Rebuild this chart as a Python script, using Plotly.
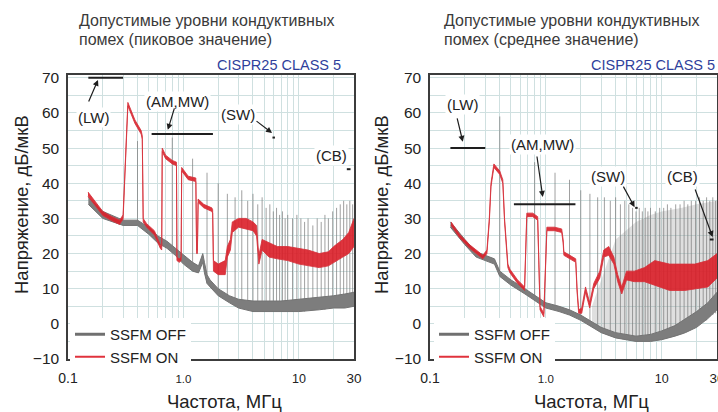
import math
import plotly.graph_objects as go

# ---------------- data ----------------
# Left panel: peak values (frequency in MHz, level in dB/uV)
L_red_f = [0.149, 0.17, 0.2, 0.24, 0.28, 0.30, 0.305, 0.315, 0.33, 0.38, 0.43, 0.44, 0.448, 0.48, 0.56,
           0.63, 0.648, 0.655, 0.70, 0.80, 0.87, 0.878, 0.92, 0.955, 0.965, 1.1, 1.28, 1.30, 1.32, 1.34,
           1.5, 1.76, 1.79, 1.82, 2.0, 2.3, 2.4, 2.55, 2.65, 3.0, 3.5, 4.0, 4.3, 4.4, 4.5, 4.8, 5.5, 6.5,
           8, 10, 12, 15, 18, 20, 24, 27, 30]
L_red_hi = [37.5, 35, 32, 30.5, 29.5, 31, 36, 50, 63, 58, 55, 53.5, 30, 28.5, 26.5,
            22.5, 22, 50, 48, 46.5, 46, 19, 18.5, 19, 44.5, 42, 41.5, 21, 21, 35.5,
            34, 33, 32.5, 18, 17, 18, 22, 24, 29, 30, 30, 29, 28, 23, 19.5, 24, 23, 22,
            22, 21.5, 21, 20, 20.5, 22, 24, 26, 30]
L_red_lo = [36.3, 33.8, 30.8, 29.3, 28.3, 29.8, 35, 49, 62, 57, 54, 52.5, 29, 27.5, 25.3,
            21.5, 21, 49, 47, 45.5, 45, 18, 17.5, 18, 43.5, 41, 40.5, 20, 20, 34.5,
            33, 32, 31.5, 15, 14, 14, 19, 21, 26, 27.5, 27, 26.5, 25, 20, 17, 21, 19, 18.5,
            18, 17, 16.5, 16, 16.5, 17.5, 19, 20, 22]

L_gray_f = [0.15, 0.2, 0.3, 0.4, 0.5, 0.6, 0.72, 0.85, 1.0, 1.2, 1.35, 1.42, 1.47, 1.52, 1.6, 1.7,
            2.0, 2.5, 3, 4, 5, 7, 10, 15, 20, 25, 30]
L_gray_hi = [36, 32, 29.5, 29.5, 27.5, 25, 23.5, 21.5, 19.5, 17.5, 16.5, 18.5, 20, 17.5, 14, 12.5,
             10, 8, 7, 6.5, 6.5, 6.5, 7, 7.5, 8, 8.5, 9]
L_gray_lo = [34, 30, 28, 28, 25.5, 23, 21.5, 19.5, 17, 15, 14.5, 16, 17.5, 14.5, 11.5, 10.5,
             8, 6, 4.5, 3.5, 3.5, 3.5, 3.5, 4, 4.5, 4.5, 5]

L_spike_f = [0.4, 0.8, 1.2, 1.6, 2.0, 2.4, 2.8, 3.2, 3.6, 4.0, 4.4, 4.8, 5.2, 5.6, 6.0, 6.4, 6.8, 7.2,
             7.6, 8.0, 8.8, 9.6, 10.4, 11.2, 12.0, 13.2, 14.4, 15.6, 16.8, 18.0, 19.6, 21.2, 22.8,
             24.4, 26.0, 27.6, 29.2]
L_spike_base = [28, 20, 15, 11.5, 8, 6.5, 5, 4.5, 4, 3.5, 3.5, 3.5, 3.5, 3.5, 3.5, 3.5, 3.5, 3.5,
                3.5, 3.5, 3.5, 3.5, 3.5, 3.5, 4, 4, 4, 4, 4, 4.5, 4.5, 4.5, 5, 5, 5, 5, 5]
L_spike_top = [52, 53, 47, 43, 40, 37, 36, 38, 35, 37, 34, 36, 33, 34, 32, 33, 31, 32,
               30, 31, 30, 31, 30, 29, 30, 28, 30, 29, 31, 30, 32, 33, 34, 35, 34, 35, 34]

# Right panel: average values
R_red_f = [0.152, 0.18, 0.22, 0.26, 0.286, 0.31, 0.325, 0.336, 0.356, 0.40, 0.425, 0.44, 0.47, 0.49,
           0.57, 0.655, 0.67, 0.685, 0.77, 0.85, 0.87, 0.89, 0.96, 0.99, 1.02, 1.19, 1.37, 1.41, 1.43,
           1.61, 1.81, 1.86, 1.92, 2.04, 2.2, 2.39, 2.59, 2.92, 3.16, 3.49, 3.86, 4.17, 4.52, 4.97,
           5.8, 7.1, 8.7, 11.7, 15.8, 19.3, 25, 30]
R_red_hi = [29, 25.5, 22.5, 20.5, 19.5, 21, 30, 40, 45.5, 43.5, 41, 30, 17, 15.5,
            12.5, 10.5, 20, 31.5, 31.5, 30.5, 18, 5, 3, 15, 27.5, 27.5, 27, 24, 20.5,
            19.5, 18.5, 10, 4, 4.5, 10.5, 6, 11.5, 15, 21, 22, 19, 14, 10.5, 15,
            15, 16, 18, 17, 17, 17, 18, 20]
R_red_lo = [28, 24.5, 21.5, 19.5, 18.5, 20, 29, 39, 44.5, 42.5, 40, 29, 16, 14.5,
            11.5, 9.5, 19, 30.5, 30.5, 29.5, 17, 4, 2, 14, 26.5, 26.5, 26, 23, 19.5,
            18.5, 17.5, 9, 3, 3, 9, 4.5, 10, 13, 19, 19.5, 17, 12, 8.5, 12.5,
            12, 12, 11, 9.5, 9.5, 10, 10.5, 13]

R_gray_f = [0.15, 0.2, 0.25, 0.3, 0.36, 0.4, 0.5, 0.66, 0.85, 1.0, 1.3, 1.6, 2.0, 2.5, 3, 4, 5, 6,
            8, 10, 13, 16, 20, 25, 30]
R_gray_hi = [29, 24, 20.5, 19.5, 18.5, 15, 12.5, 10, 7.5, 6, 5, 4, 2.5, 0.5, -1, -2.5, -3, -3.5,
             -3, -2, -0.5, 1.5, 3.5, 6, 9]
R_gray_lo = [27.5, 22.5, 19, 18, 17, 13.5, 11, 8.5, 6, 4.5, 3.5, 2.5, 1, -1, -2.5, -4, -4.5, -5,
             -5, -4.5, -3.5, -2.5, -1, 1.5, 4]

R_spike_f = [0.4, 0.8, 1.2, 1.6, 2.0, 2.4, 2.8, 3.2, 3.6, 4.0, 4.4, 4.8, 5.2, 5.6, 6.0, 6.4, 6.8, 7.2,
             7.6, 8.0, 8.8, 9.6, 10.4, 11.2, 12.0, 13.2, 14.4, 15.6, 16.8, 18.0, 19.6, 21.2, 22.8,
             24.4, 26.0, 27.6, 29.2]
R_spike_base = [14, 7, 4, 2.5, 1, 0, -1, -2, -2.5, -3, -3.5, -3.5, -4, -4, -4.5, -4.5, -4.5, -4.5,
                -4.5, -4.5, -4.5, -4, -4, -4, -3.5, -3, -3, -2.5, -2, -1.5, -1, 0, 0.5, 1, 2, 2.5, 3]
R_spike_top = [59, 46, 43, 41, 38, 37, 36, 36, 35, 36, 34, 35, 34, 33, 32, 33, 32, 33,
               32, 33, 32, 33, 33, 34, 33, 34, 34, 35, 34, 35, 35, 36, 35, 36, 35, 36, 35]

R_dense_f = [2.5, 4, 6, 8, 10, 15, 20, 30]
R_dense_lo = [-1, -4, -5, -5, -4.5, -3, -1, 4]
R_dense_hi = [5, 24, 29, 31, 32, 33, 34, 35]

# CISPR 25 class 5 limits
limit_f_start = [0.15, 0.53, 5.9, 26]
limit_f_end = [0.3, 1.8, 6.2, 28]
peak_limit = [70, 54, 53, 44]
avg_limit = [50, 34, 33, 24]

# annotation labels
ann_text = ["(LW)", "(AM,MW)", "(SW)", "(CB)"]
L_ann_f = [0.165, 0.88, 2.97, 19.3]
L_ann_v = [58.6, 63.4, 59.5, 47.8]
L_arr_f = [0.182, 0.732, 5.85]
L_arr_v = [69.4, 55.2, 54.3]
L_arr_ax = [-10, 7, -17]
L_arr_ay = [23, -23, -13]
R_ann_f = [0.189, 0.94, 3.42, 15.1]
R_ann_v = [62.3, 50.9, 41.8, 41.8]
R_arr_f = [0.192, 0.94, 5.83, 27.5]
R_arr_v = [51.8, 36.1, 33.2, 24.7]
R_arr_ax = [-6, -6, -12, -18]
R_arr_ay = [-25, -42, -22, -49]

x_tickvals = [0.1, 1, 10, 30]
x_ticktext = ['<span style="font-size:14px">0.1</span>', '<span style="font-size:11.5px">1.0</span>',
              '<span style="font-size:12.5px">10</span>', '<span style="font-size:13.5px">30</span>']
x_minor = [0.2, 0.3, 0.4, 0.5, 0.6, 0.7, 0.8, 0.9, 2, 3, 4, 5, 6, 7, 8, 9, 20]
y_tickvals = [-10, 0, 10, 20, 30, 40, 50, 60, 70]
y_ticktext = ["\u221210", "0", "10", "20", "30", "40", "50", "60", "70"]
y_minor = [-5, 5, 15, 25, 35, 45, 55, 65]

titles = ["Допустимые уровни кондуктивных", "помех (пиковое значение)",
          "Допустимые уровни кондуктивных", "помех (среднее значение)"]

# ---------------- styles ----------------
FONT = "Liberation Sans, Arial, Helvetica, sans-serif"
RED_LINE = "rgba(214,50,60,0.85)"
RED_FILL = "rgba(218,30,40,0.9)"
GRAY_LINE = "#737373"
GRAY_FILL = "#7d7d7d"
SPIKE = "rgba(120,120,120,0.7)"
GRID = "#cfe0e0"
FRAME = "#3c3c3c"

fig = go.Figure()


def spikes(fs, base, top):
    xs, ys = [], []
    for f, b, t in zip(fs, base, top):
        xs += [f, f, None]
        ys += [b, t, None]
    return xs, ys


def limits(vals):
    xs, ys = [], []
    for a, b, v in zip(limit_f_start, limit_f_end, vals):
        xs += [a, b, None]
        ys += [v, v, None]
    return xs, ys


def panel(xa, ya, sp_f, sp_b, sp_t, g_f, g_hi, g_lo, r_f, r_hi, r_lo, lim, legend, dense=None):
    sx, sy = spikes(sp_f, sp_b, sp_t)
    if dense is not None:
        df, dlo, dhi = dense
        fig.add_trace(go.Scatter(x=df, y=dlo, mode="lines", line=dict(width=0), xaxis=xa, yaxis=ya,
                                 showlegend=False, hoverinfo="skip"))
        fig.add_trace(go.Scatter(x=df, y=dhi, mode="lines", line=dict(width=0), fill="tonexty",
                                 fillcolor="rgba(150,150,150,0.30)", xaxis=xa, yaxis=ya,
                                 showlegend=False, hoverinfo="skip"))
    fig.add_trace(go.Scatter(x=sx, y=sy, mode="lines", line=dict(color=SPIKE, width=1),
                             xaxis=xa, yaxis=ya, showlegend=False, hoverinfo="skip"))
    fig.add_trace(go.Scatter(x=g_f, y=g_lo, mode="lines", line=dict(color=GRAY_LINE, width=1),
                             xaxis=xa, yaxis=ya, showlegend=False, hoverinfo="skip"))
    fig.add_trace(go.Scatter(x=g_f, y=g_hi, mode="lines", line=dict(color=GRAY_LINE, width=1),
                             fill="tonexty", fillcolor=GRAY_FILL,
                             xaxis=xa, yaxis=ya, showlegend=False, hoverinfo="skip"))
    fig.add_trace(go.Scatter(x=r_f, y=r_lo, mode="lines", line=dict(color=RED_LINE, width=1),
                             xaxis=xa, yaxis=ya, showlegend=False, hoverinfo="skip"))
    fig.add_trace(go.Scatter(x=r_f, y=r_hi, mode="lines", line=dict(color=RED_LINE, width=1),
                             fill="tonexty", fillcolor=RED_FILL,
                             xaxis=xa, yaxis=ya, showlegend=False, hoverinfo="skip"))
    lx, ly = limits(lim)
    fig.add_trace(go.Scatter(x=lx, y=ly, mode="lines", line=dict(color="#1e1e1e", width=2),
                             xaxis=xa, yaxis=ya, showlegend=False, hoverinfo="skip"))
    # legend entries
    fig.add_trace(go.Scatter(x=[None], y=[None], mode="lines", name="SSFM OFF",
                             line=dict(color="#707070", width=3), xaxis=xa, yaxis=ya, legend=legend))
    fig.add_trace(go.Scatter(x=[None], y=[None], mode="lines", name="SSFM ON",
                             line=dict(color="#e0323c", width=2), xaxis=xa, yaxis=ya, legend=legend))


panel("x", "y", L_spike_f, L_spike_base, L_spike_top, L_gray_f, L_gray_hi, L_gray_lo,
      L_red_f, L_red_hi, L_red_lo, peak_limit, "legend")
panel("x2", "y2", R_spike_f, R_spike_base, R_spike_top, R_gray_f, R_gray_hi, R_gray_lo,
      R_red_f, R_red_hi, R_red_lo, avg_limit, "legend2", dense=(R_dense_f, R_dense_lo, R_dense_hi))

W, H = 718, 412
ydom = [1 - 359 / H, 1 - 75 / H]


def xaxis(dom, anchor):
    return dict(type="log", range=[-1, math.log10(30)], domain=dom, anchor=anchor, automargin=False,
                tickmode="array", tickvals=x_tickvals, ticktext=x_ticktext,
                showgrid=True, gridcolor=GRID, gridwidth=1,
                minor=dict(tickvals=x_minor, showgrid=True, gridcolor=GRID, gridwidth=1, ticks=""),
                showline=True, mirror=True, linecolor=FRAME, linewidth=1.5, ticks="",
                zeroline=False, ticklabelstandoff=5, ticklabeloverflow="allow",
                tickfont=dict(family=FONT, size=14, color="#222"))


def yaxis(anchor):
    return dict(range=[-10, 70.8], domain=ydom, anchor=anchor, automargin=False, tickmode="array",
                tickvals=y_tickvals, ticktext=y_ticktext,
                showgrid=True, gridcolor=GRID, gridwidth=1,
                minor=dict(tickvals=y_minor, showgrid=True, gridcolor=GRID, gridwidth=1, ticks=""),
                showline=True, mirror=True, linecolor=FRAME, linewidth=1.5, ticks="",
                zeroline=False, ticklabelstandoff=4,
                tickfont=dict(family=FONT, size=15.5, color="#222"))


annotations = []
# titles
for i, (xp, yp) in enumerate([(77, 21), (77, 40), (442, 21), (442, 40)]):
    annotations.append(dict(text=titles[i], xref="paper", yref="paper", x=xp / W, y=1 - yp / H,
                            xanchor="left", yanchor="middle", showarrow=False,
                            font=dict(family=FONT, size=16, color="#3a3a3a")))
for xp in (343, 717):
    annotations.append(dict(text="CISPR25 CLASS 5", xref="paper", yref="paper", x=xp / W,
                            y=1 - 65 / H, xanchor="right", yanchor="middle", showarrow=False,
                            font=dict(family=FONT, size=14.5, color="#2f3f9c")))
# axis titles
for xp in (21, 381):
    annotations.append(dict(text="Напряжение, дБ/мкВ", xref="paper", yref="paper", x=xp / W,
                            y=1 - 205 / H, xanchor="center", yanchor="middle", textangle=-90,
                            showarrow=False, font=dict(family=FONT, size=18.5, color="#222")))
for xp in (224.5, 591):
    annotations.append(dict(text="Частота, МГц", xref="paper", yref="paper", x=xp / W,
                            y=1 - 401 / H, xanchor="center", yanchor="middle",
                            showarrow=False, font=dict(family=FONT, size=18.5, color="#222")))

# band labels and arrows
for xr, yr, af, av, hf, hv, ax, ay in [("x", "y", L_ann_f, L_ann_v, L_arr_f, L_arr_v, L_arr_ax, L_arr_ay),
                                       ("x2", "y2", R_ann_f, R_ann_v, R_arr_f, R_arr_v, R_arr_ax, R_arr_ay)]:
    for t, f, v in zip(ann_text, af, av):
        annotations.append(dict(text=t, xref=xr, yref=yr, x=math.log10(f), y=v, showarrow=False,
                                bgcolor="white", borderpad=1,
                                font=dict(family=FONT, size=15, color="#222")))
    for f, v, dx, dy in zip(hf, hv, ax, ay):
        annotations.append(dict(text="", xref=xr, yref=yr, x=math.log10(f), y=v, showarrow=True,
                                ax=dx, ay=dy, arrowhead=2, arrowsize=1, arrowwidth=1.2,
                                arrowcolor="#1e1e1e", standoff=0, startstandoff=0))

legend_common = dict(xanchor="left", yanchor="top", bgcolor="white", borderwidth=0,
                     font=dict(family=FONT, size=15, color="#222"), tracegroupgap=0,
                     traceorder="normal", itemclick=False, itemdoubleclick=False)

fig.update_layout(
    width=W, height=H, autosize=False, margin=dict(l=0, r=0, t=0, b=0, pad=0),
    paper_bgcolor="white", plot_bgcolor="white",
    xaxis=xaxis([68 / W, 354 / W], "y"), yaxis=yaxis("x"),
    xaxis2=xaxis([430 / W, 717 / W], "y2"), yaxis2=yaxis("x2"),
    annotations=annotations,
    legend=dict(x=70 / W, y=1 - 318 / H, **legend_common),
    legend2=dict(x=434 / W, y=1 - 318 / H, **legend_common),
    showlegend=True,
)

fig.write_html("out.html", config={"displayModeBar": False},
               post_script="document.body.style.margin='0';document.body.style.padding='0';"
                           "document.body.style.overflow='hidden';")
